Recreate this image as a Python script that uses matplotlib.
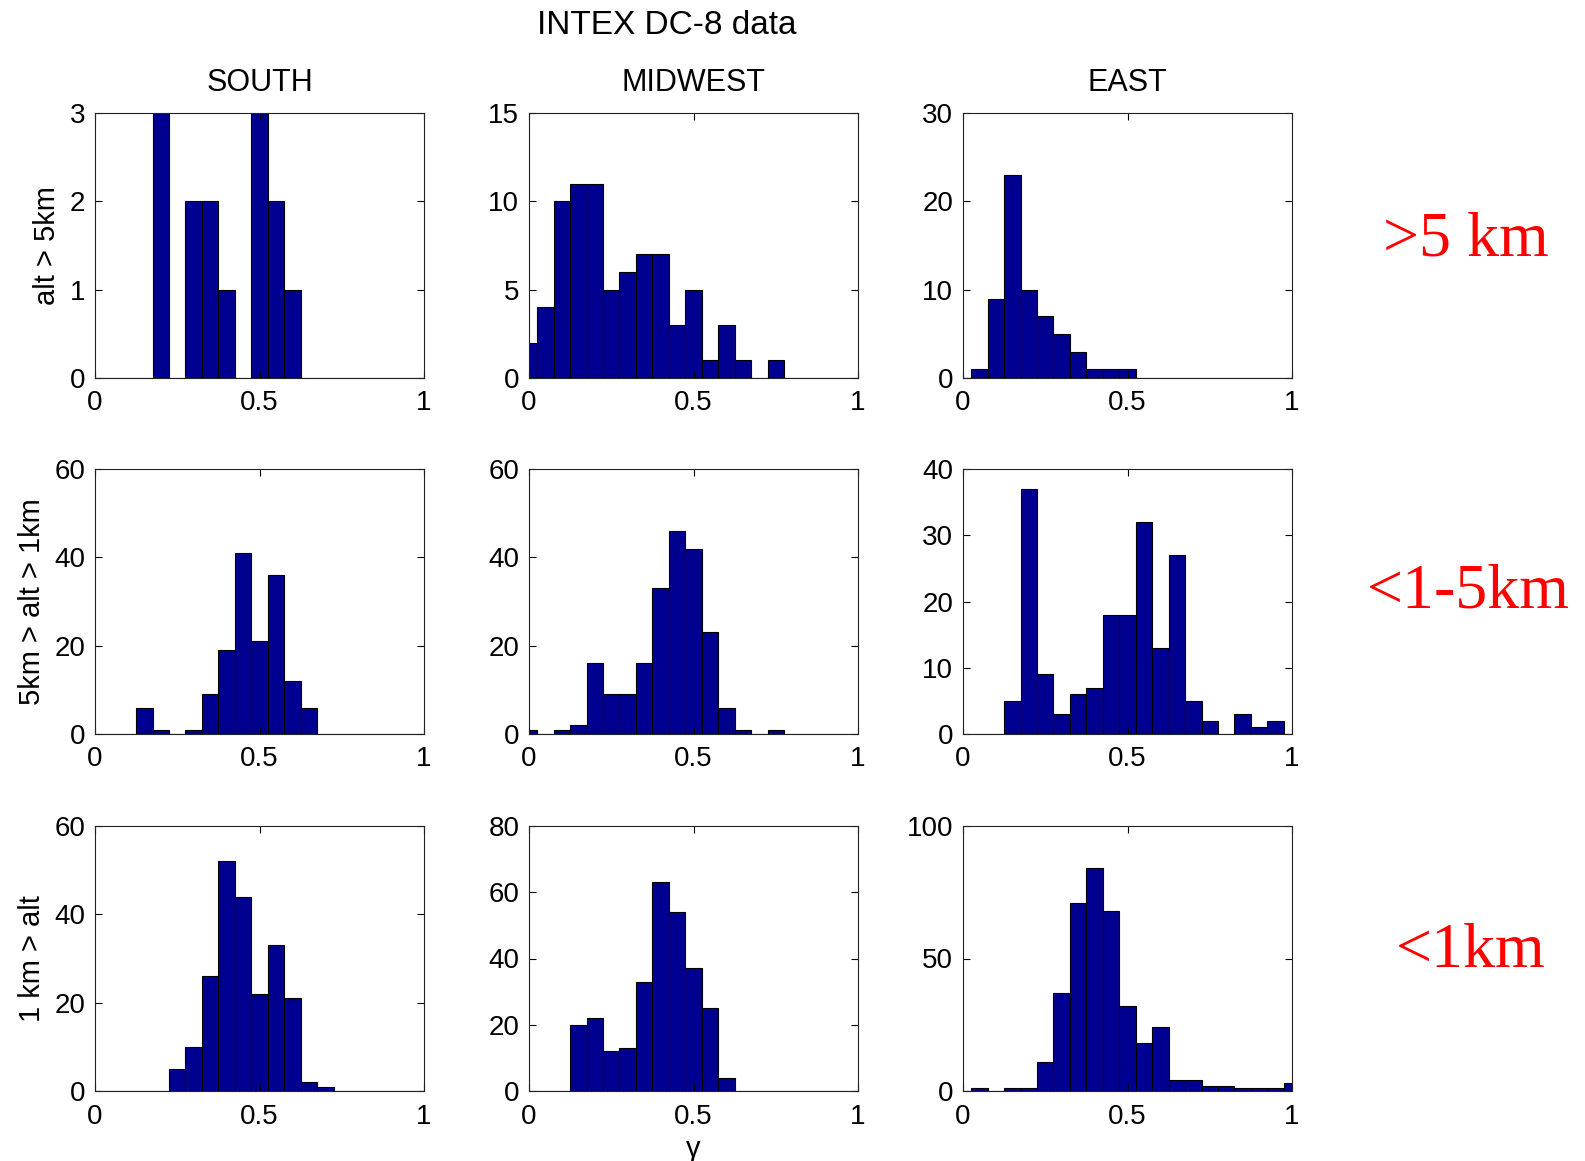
import matplotlib
matplotlib.use("Agg")
import matplotlib.pyplot as plt
import numpy as np

# histogram bin centres (hist(x, 0:0.05:1))
BIN_CENTERS = np.linspace(0, 1, 21)
BIN_WIDTH = 0.05

REGIONS = ["SOUTH", "MIDWEST", "EAST"]
ALT_LABELS = ["alt > 5km", "5km > alt > 1km", "1 km > alt"]
ALT_TAGS = [">5 km", "<1-5km", "<1km"]

# counts per bin, rows = altitude band, columns = region
south_high = [0, 0, 0, 0, 3, 0, 2, 2, 1, 0, 3, 2, 1, 0, 0, 0, 0, 0, 0, 0, 0]
midwest_high = [2, 4, 10, 11, 11, 5, 6, 7, 7, 3, 5, 1, 3, 1, 0, 1, 0, 0, 0, 0, 0]
east_high = [0, 1, 9, 23, 10, 7, 5, 3, 1, 1, 1, 0, 0, 0, 0, 0, 0, 0, 0, 0, 0]

south_mid = [0, 0, 0, 6, 1, 0, 1, 9, 19, 41, 21, 36, 12, 6, 0, 0, 0, 0, 0, 0, 0]
midwest_mid = [1, 0, 1, 2, 16, 9, 9, 16, 33, 46, 42, 23, 6, 1, 0, 1, 0, 0, 0, 0, 0]
east_mid = [0, 0, 0, 5, 37, 9, 3, 6, 7, 18, 18, 32, 13, 27, 5, 2, 0, 3, 1, 2, 0]

south_low = [0, 0, 0, 0, 0, 5, 10, 26, 52, 44, 22, 33, 21, 2, 1, 0, 0, 0, 0, 0, 0]
midwest_low = [0, 0, 0, 20, 22, 12, 13, 33, 63, 54, 37, 25, 4, 0, 0, 0, 0, 0, 0, 0, 0]
east_low = [0, 1, 0, 1, 1, 11, 37, 71, 84, 68, 32, 18, 24, 4, 4, 2, 2, 1, 1, 1, 3]

COUNTS = [
    [south_high, midwest_high, east_high],
    [south_mid, midwest_mid, east_mid],
    [south_low, midwest_low, east_low],
]
YLIMS = [[3, 15, 30], [60, 60, 40], [60, 80, 100]]
YTICKS = [
    [[0, 1, 2, 3], [0, 5, 10, 15], [0, 10, 20, 30]],
    [[0, 20, 40, 60], [0, 20, 40, 60], [0, 10, 20, 30, 40]],
    [[0, 20, 40, 60], [0, 20, 40, 60, 80], [0, 50, 100]],
]

plt.rcParams["font.family"] = ["Liberation Sans", "DejaVu Sans"]
plt.rcParams["font.size"] = 20

fig = plt.figure(figsize=(15.85, 11.61), dpi=100)

W, H = 1585.0, 1161.0
col_left = [95, 529, 963]
row_top = [113, 469, 826]
ax_w, ax_h = 329, 265

for r in range(3):
    for c in range(3):
        ax = fig.add_axes([col_left[c] / W, 1 - (row_top[r] + ax_h) / H, ax_w / W, ax_h / H])
        ax.bar(BIN_CENTERS, COUNTS[r][c], width=BIN_WIDTH, color="#000090",
               edgecolor="black", linewidth=0.8)
        ax.set_xlim(0, 1)
        ax.set_ylim(0, YLIMS[r][c])
        ax.set_xticks([0, 0.5, 1])
        ax.set_xticklabels(["0", "0.5", "1"])
        ax.set_yticks(YTICKS[r][c])
        ax.tick_params(direction="in", top=True, right=True, length=5, width=0.8,
                       labelsize=20)
        ax.tick_params(axis="x", pad=9)
        ax.tick_params(axis="y", pad=7)
        for sp in ax.spines.values():
            sp.set_linewidth(0.8)
            sp.set_color("#222222")
        if r == 0:
            ax.set_title(REGIONS[c], fontsize=22, pad=16)
        if c == 0:
            ax.set_ylabel(ALT_LABELS[r], fontsize=21, labelpad=6)
        if r == 2 and c == 1:
            ax.set_xlabel("\u03b3", fontsize=21, labelpad=4)

fig.text(667 / W, 1 - 25 / H, "INTEX DC-8 data", ha="center", va="center", fontsize=24)

tag_pos = [(1466, 241), (1468, 593), (1471, 952)]
for tag, (x, y) in zip(ALT_TAGS, tag_pos):
    fig.text(x / W, 1 - y / H, tag, ha="center", va="center", color="red",
             fontsize=46, family="Liberation Serif")

fig.savefig("out.png", dpi=100)
